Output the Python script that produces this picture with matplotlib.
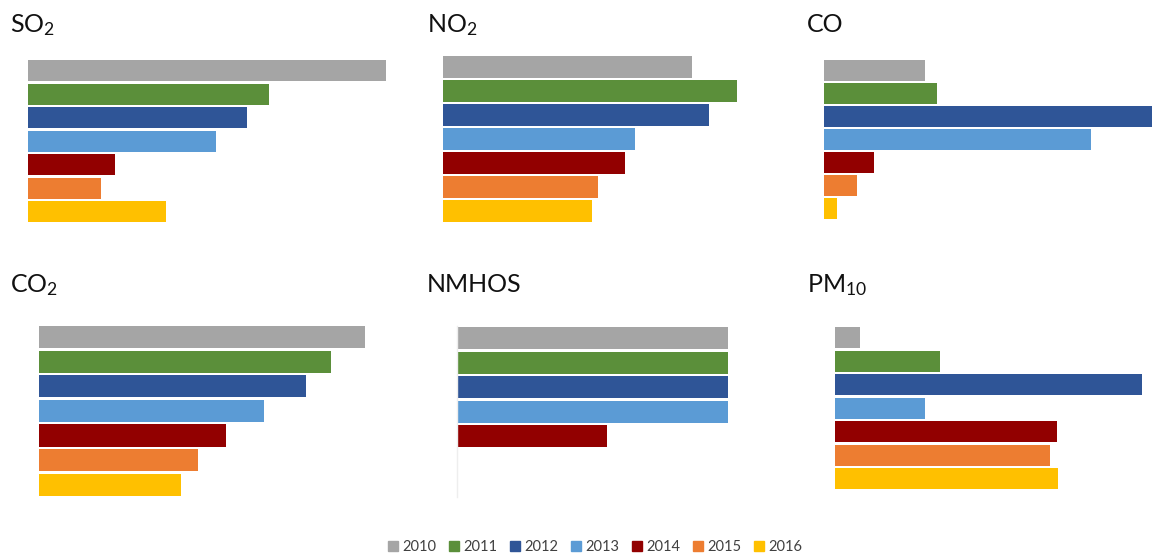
import matplotlib.pyplot as plt
from matplotlib.patches import Patch

plt.rcParams['font.family'] = ['Lato', 'DejaVu Sans']
plt.rcParams['mathtext.fontset'] = 'custom'
plt.rcParams['mathtext.rm'] = 'Lato'
plt.rcParams['mathtext.default'] = 'regular'

years = ['2010', '2011', '2012', '2013', '2014', '2015', '2016']
colors = ['#a5a5a5', '#5b8f3a', '#2f5597', '#5b9bd5', '#920000', '#ed7d31', '#ffc000']

# relative bar lengths (each panel on its own scale)
so2 = [358, 241, 219, 188, 87, 73, 138]
no2 = [249, 294, 266, 192, 182, 155, 149]
co = [101, 113, 330, 267, 50, 33, 13]
co2 = [326, 292, 267, 225, 187, 159, 142]
nmhos = [271, 271, 271, 271, 150, 0, 0]
pm10 = [25, 105, 307, 90, 222, 215, 223]

titles = ['SO$_2$', 'NO$_2$', 'CO', 'CO$_2$', 'NMHOS', 'PM$_{10}$']
series = [so2, no2, co, co2, nmhos, pm10]

W, H = 1152, 553
fig = plt.figure(figsize=(W / 100, H / 100), dpi=100)

# panel layout in pixels: bar start x, top of first bar, bar pitch, axes width, title x, title y
layout = [
    (28, 60, 23.5, 370, 10, 25),
    (443, 56, 24.0, 330, 427, 25),
    (824, 60, 23.0, 328, 807, 25),
    (39, 326, 24.6, 370, 10, 285),
    (457, 327, 24.5, 330, 427, 285),
    (835, 327, 23.5, 317, 807, 285),
]

for vals, title, (x0, y0, pitch, aw, tx, ty) in zip(series, titles, layout):
    top = y0 - 0.05 * pitch
    ah = 7 * pitch
    ax = fig.add_axes([x0 / W, 1 - (top + ah) / H, aw / W, ah / H])
    ax.barh(range(len(years)), vals, height=0.9, color=colors)
    ax.set_xlim(0, aw)
    ax.set_ylim(6.5, -0.5)
    ax.set_xticks([])
    ax.set_yticks([])
    for s in ['top', 'right', 'bottom']:
        ax.spines[s].set_visible(False)
    if title == 'NMHOS':
        ax.spines['left'].set_color('#eeeeee')
        ax.spines['left'].set_linewidth(1.0)
    else:
        ax.spines['left'].set_visible(False)
    fig.text(tx / W, 1 - ty / H, title, fontsize=18, va='center', ha='left', color='#111111')

handles = [Patch(color=c, label=y) for c, y in zip(colors, years)]
fig.legend(handles=handles, loc='center', bbox_to_anchor=(595 / W, 1 - 547 / H), ncol=7,
           frameon=False, fontsize=10.5, handlelength=0.7, handleheight=0.7,
           handletextpad=0.3, columnspacing=0.85, labelcolor='#404040')

fig.savefig('out.png', dpi=100)
